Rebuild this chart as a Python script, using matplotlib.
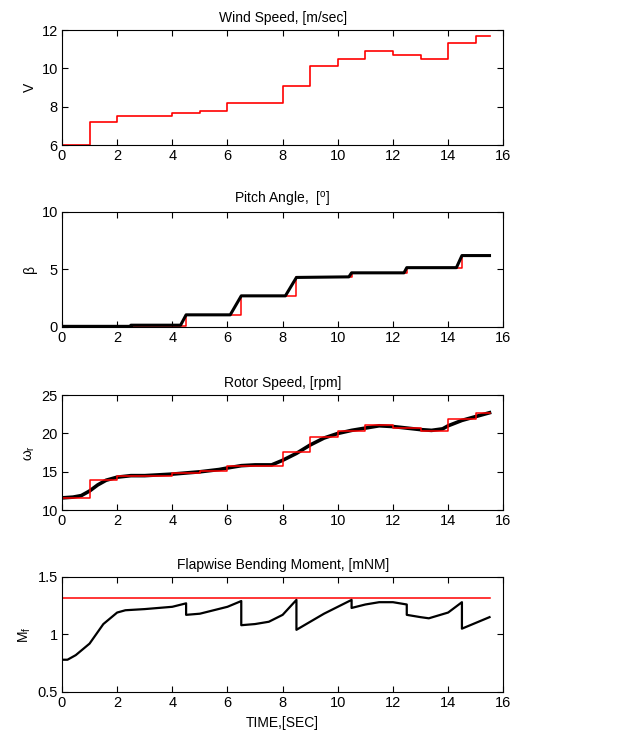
import matplotlib
matplotlib.use("Agg")
import matplotlib.pyplot as plt

plt.rcParams['font.family'] = ['Liberation Sans', 'DejaVu Sans']
plt.rcParams['mathtext.fontset'] = 'custom'
plt.rcParams['mathtext.rm'] = 'Liberation Sans'

# Wind speed (step, value holds from t to next t)
wind_t = [0, 1, 2, 4, 5, 6, 8, 9, 10, 11, 12, 13, 14, 15, 15.5]
wind_v = [6.0, 7.2, 7.5, 7.7, 7.8, 8.2, 9.1, 10.1, 10.5, 10.9, 10.7, 10.5, 11.3, 11.7, 11.7]

# Pitch angle reference (red, step) and response (black)
pitch_ref_t = [0, 4.5, 6.5, 8.5, 10.5, 12.5, 14.5, 15.5]
pitch_ref_v = [0.1, 1.0, 2.7, 4.3, 4.7, 5.1, 6.2, 6.2]
pitch_t = [0, 2.5, 2.5, 4.3, 4.5, 6.1, 6.5, 8.1, 8.5, 10.4, 10.5, 12.4, 12.5, 14.3, 14.5, 15.5]
pitch_v = [0.05, 0.05, 0.15, 0.15, 1.05, 1.05, 2.7, 2.7, 4.3, 4.35, 4.7, 4.7, 5.15, 5.15, 6.2, 6.2]

# Rotor speed reference (red, step) and response (black)
rot_ref_t = [0, 1, 2, 4, 5, 6, 8, 9, 10, 11, 12, 13, 14, 15, 15.5]
rot_ref_v = [11.6, 13.9, 14.5, 14.8, 15.1, 15.8, 17.6, 19.5, 20.3, 21.1, 20.7, 20.3, 21.9, 22.6, 22.6]
rot_t = [0, 0.4, 0.7, 1.0, 1.3, 1.6, 2.0, 2.5, 3.0, 4.0, 5.0, 5.7, 6.0, 6.5, 7.0, 7.6, 8.0,
         8.5, 9.0, 9.5, 10.0, 10.5, 11.0, 11.5, 12.0, 12.5, 13.0, 13.4, 13.8, 14.0, 14.5, 15.0, 15.5]
rot_v = [11.6, 11.7, 11.9, 12.5, 13.3, 13.9, 14.3, 14.5, 14.5, 14.7, 15.0, 15.3, 15.5, 15.8, 15.9, 15.9, 16.5,
         17.4, 18.5, 19.4, 20.0, 20.4, 20.7, 21.0, 20.9, 20.7, 20.5, 20.4, 20.6, 21.0, 21.7, 22.2, 22.7]

# Flapwise bending moment limit (red) and response (black)
flap_lim_t = [0, 15.5]
flap_lim_v = [1.32, 1.32]
flap_t = [0, 0.2, 0.5, 1.0, 1.5, 2.0, 2.3, 3.0, 4.0, 4.5, 4.5, 5.0, 6.0, 6.5, 6.5, 7.0, 7.5, 8.0,
          8.5, 8.5, 9.0, 9.5, 10.0, 10.5, 10.5, 11.0, 11.5, 12.0, 12.5, 12.5, 13.0, 13.3, 14.0, 14.5,
          14.5, 15.0, 15.5]
flap_v = [0.78, 0.78, 0.82, 0.92, 1.09, 1.19, 1.21, 1.22, 1.24, 1.27, 1.17, 1.18, 1.24, 1.29, 1.08, 1.09, 1.11, 1.17,
          1.30, 1.04, 1.11, 1.18, 1.24, 1.30, 1.23, 1.26, 1.28, 1.28, 1.26, 1.17, 1.15, 1.14, 1.19, 1.28,
          1.05, 1.10, 1.15]

fig = plt.figure(figsize=(6.26, 7.33), dpi=100)

left, width, height = 0.099, 0.705, 0.157
bottoms = [0.802, 0.554, 0.304, 0.056]
axes = [fig.add_axes([left, b, width, height]) for b in bottoms]

def style(ax, ylim, yticks, title, ylabel):
    ax.set_xlim(0, 16)
    ax.set_xticks(range(0, 17, 2))
    ax.set_ylim(*ylim)
    ax.set_yticks(yticks)
    ax.tick_params(direction='in', top=True, right=True, length=4, width=0.8, labelsize=10.5, pad=3)
    ax.set_title(title, fontsize=10, pad=6)
    ax.set_ylabel(ylabel, fontsize=10, labelpad=3)
    for s in ax.spines.values():
        s.set_linewidth(0.8)

ax = axes[0]
ax.step(wind_t, wind_v, where='post', color='red', lw=1.2)
style(ax, (6, 12), [6, 8, 10, 12], 'Wind Speed, [m/sec]', 'V')

ax = axes[1]
ax.step(pitch_ref_t, pitch_ref_v, where='post', color='red', lw=1.1)
ax.plot(pitch_t, pitch_v, color='black', lw=2.2)
style(ax, (0, 10), [0, 5, 10], 'Pitch Angle,  [$\\mathregular{^o}$]', 'β')

ax = axes[2]
ax.plot(rot_t, rot_v, color='black', lw=2.6)
ax.step(rot_ref_t, rot_ref_v, where='post', color='red', lw=1.1)
style(ax, (10, 25), [10, 15, 20, 25], 'Rotor Speed, [rpm]', r'$\mathregular{\omega_r}$')

ax = axes[3]
ax.plot(flap_lim_t, flap_lim_v, color='red', lw=1.1)
ax.plot(flap_t, flap_v, color='black', lw=1.6)
style(ax, (0.5, 1.5), [0.5, 1, 1.5], 'Flapwise Bending Moment, [mNM]', r'$\mathregular{M_f}$')
ax.set_yticklabels(['0.5', '1', '1.5'])
ax.set_xlabel('TIME,[SEC]', fontsize=10, labelpad=4)

fig.savefig('out.png', dpi=100)
